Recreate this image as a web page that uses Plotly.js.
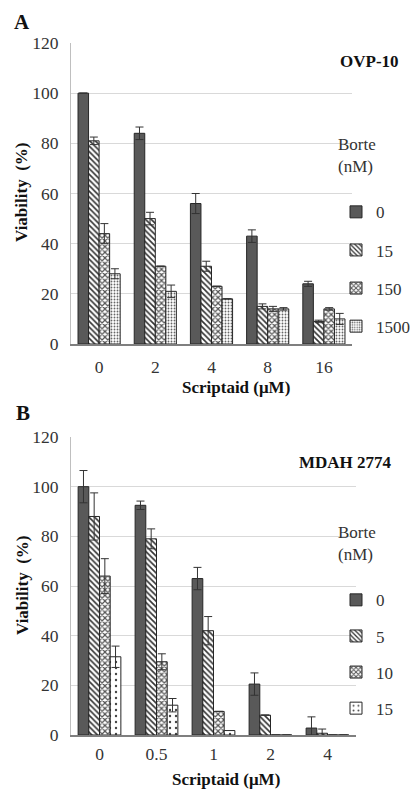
<!DOCTYPE html>
<html>
<head>
<meta charset="utf-8">
<script src="https://cdn.plot.ly/plotly-3.0.1.min.js"></script>
<style>html,body{margin:0;padding:0;background:#fff;}#chart{width:412px;height:790px;}</style>
</head>
<body>
<div id="chart"></div>
<script>
// ---- Panel A: OVP-10 ----
const catsA = ['0', '2', '4', '8', '16'];
const namesA = ['0', '15', '150', '1500'];
const a0 = [100, 84, 56, 43, 24];
const a0Err = [0, 2.5, 4, 2.5, 1];
const a15 = [81, 50, 31, 15, 9];
const a15Err = [1.5, 2.5, 2, 1, 0.5];
const a150 = [44, 31, 23, 14, 14];
const a150Err = [4, 0, 0, 1, 0.5];
const a1500 = [28, 21, 18, 14, 10];
const a1500Err = [2, 2.5, 0, 0.5, 2.2];

// ---- Panel B: MDAH 2774 ----
const catsB = ['0', '0.5', '1', '2', '4'];
const namesB = ['0', '5', '10', '15'];
const b0 = [100, 92.5, 63, 20.5, 2.8];
const b0Err = [6.5, 1.7, 4.5, 4.5, 4.5];
const b5 = [88, 79, 42, 8, 0.7];
const b5Err = [9.5, 4, 5.7, 0, 1.7];
const b10 = [64, 29.5, 9.5, 0, 0];
const b10Err = [7, 3.2, 0, 0, 0];
const b15 = [31.5, 12, 1.8, 0, 0];
const b15Err = [4.3, 2.7, 0, 0, 0];

const FONT = "'Liberation Serif', 'Times New Roman', serif";
const styles = [
  {color: '#595959', pattern: {shape: ''}},
  {color: '#ffffff', pattern: {shape: '\\', fgcolor: '#333333', bgcolor: '#ffffff', size: 4, solidity: 0.4}},
  {color: '#ffffff', pattern: {shape: 'x', fgcolor: '#555555', bgcolor: '#ffffff', size: 4, solidity: 0.5}},
  {color: '#ffffff', pattern: {shape: '.', fgcolor: '#666666', bgcolor: '#ffffff', size: 3, solidity: 0.3}}
];
const stylesB = styles.map((s, i) => i === 3 ? {color: '#ffffff', pattern: {shape: '.', fgcolor: '#444444', bgcolor: '#ffffff', size: 6, solidity: 0.12}} : s);

function mk(cats, ys, errs, name, st, xa, ya, leg, grp) {
  return {
    type: 'bar', x: cats, y: ys, name: name, xaxis: xa, yaxis: ya, legend: leg, legendgroup: grp,
    marker: {color: st.color, pattern: st.pattern, line: {color: '#262626', width: 1}},
    error_y: {type: 'data', array: errs, visible: true, color: '#333333', thickness: 1, width: 4},
    hoverinfo: 'skip'
  };
}

const dataA = [[a0, a0Err], [a15, a15Err], [a150, a150Err], [a1500, a1500Err]];
const dataB = [[b0, b0Err], [b5, b5Err], [b10, b10Err], [b15, b15Err]];
const traces = [];
dataA.forEach((d, i) => traces.push(mk(catsA, d[0], d[1], namesA[i], styles[i], 'x', 'y', 'legend', 'a' + i)));
dataB.forEach((d, i) => traces.push(mk(catsB, d[0], d[1], namesB[i], stylesB[i], 'x2', 'y2', 'legend2', 'b' + i)));

const W = 412, H = 790;
const px = v => v / W, py = v => 1 - v / H;

const yax = (top, bot) => ({
  domain: [py(bot), py(top)], range: [0, 120], dtick: 20, tick0: 0,
  showgrid: true, gridcolor: '#d9d9d9', gridwidth: 1,
  showline: true, linecolor: '#bfbfbf', linewidth: 1,
  zeroline: false, ticks: '', ticklabelstandoff: 8,
  tickfont: {family: FONT, size: 17.5, color: '#333333'}, fixedrange: true
});
const xax = (l, r, anchor, so) => ({
  domain: [px(l), px(r)], type: 'category', anchor: anchor,
  showline: true, linecolor: '#7f7f7f', linewidth: 1.5,
  showgrid: false, ticks: '', ticklabelstandoff: so,
  tickfont: {family: FONT, size: 17.5, color: '#333333'}, fixedrange: true
});

const legendBase = (top, left, gap) => ({
  x: px(left), y: py(top), xanchor: 'left', yanchor: 'top', xref: 'paper', yref: 'paper',
  traceorder: 'grouped', tracegroupgap: gap, bgcolor: 'rgba(0,0,0,0)',
  font: {family: FONT, size: 17, color: '#333333'},
  title: {text: 'Borte<br>(nM)<br> ', side: 'top', font: {family: FONT, size: 17, color: '#333333'}},
  itemwidth: 30
});

const ann = (text, x, y, opts) => Object.assign({
  text: text, x: px(x), y: py(y), xref: 'paper', yref: 'paper', showarrow: false,
  xanchor: 'center', yanchor: 'middle',
  font: {family: FONT, size: 17, color: '#111111'}
}, opts || {});

const layout = {
  width: W, height: H, margin: {l: 0, r: 0, t: 0, b: 0, autoexpand: false},
  paper_bgcolor: '#ffffff', plot_bgcolor: '#ffffff',
  barmode: 'group', bargap: 0.25, bargroupgap: 0,
  showlegend: true,
  xaxis: xax(71, 352, 'y', 6), yaxis: yax(43, 344),
  xaxis2: xax(71, 356, 'y2', 2), yaxis2: Object.assign(yax(437, 735), {anchor: 'x2'}),
  legend: legendBase(128, 336, 13),
  legend2: legendBase(516, 336, 11),
  annotations: [
    ann('<b>A</b>', 22, 22, {font: {family: FONT, size: 21, color: '#111'}}),
    ann('<b>B</b>', 23, 413, {font: {family: FONT, size: 21, color: '#111'}}),
    ann('<b>OVP-10</b>', 401, 62, {xanchor: 'right'}),
    ann('<b>MDAH 2774</b>', 394, 462, {xanchor: 'right'}),
    ann('<b>Viability  (%)</b>', 22, 193, {textangle: -90}),
    ann('<b>Viability  (%)</b>', 22, 586, {textangle: -90}),
    ann('<b>Scriptaid (μM)</b>', 236, 388),
    ann('<b>Scriptaid (μM)</b>', 226, 779)
  ]
};

Plotly.newPlot('chart', traces, layout, {staticPlot: true, displayModeBar: false});
</script>
</body>
</html>
